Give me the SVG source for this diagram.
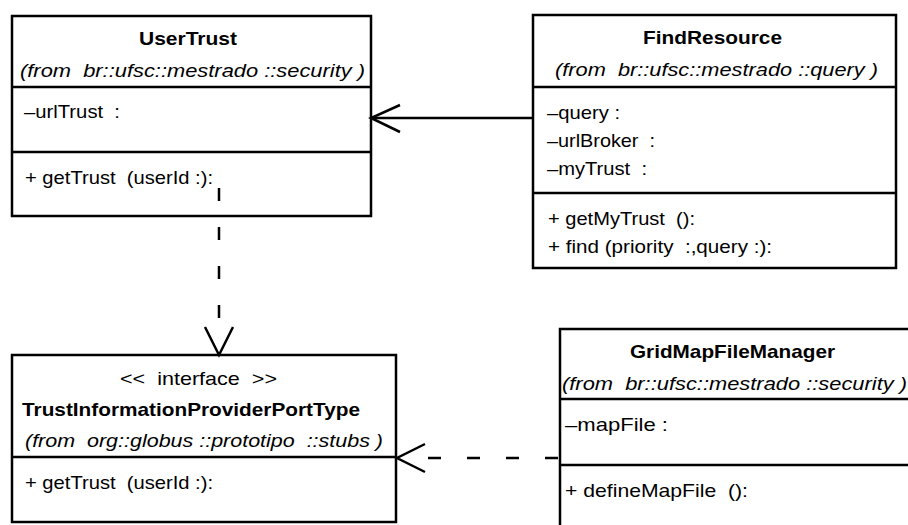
<svg xmlns="http://www.w3.org/2000/svg" width="908" height="525" viewBox="0 0 908 525">
  <style>
    .box { fill: #ffffff; stroke: #000000; stroke-width: 2.5; }
    .sep { stroke: #000000; stroke-width: 2.5; }
    text { font-family: "Liberation Sans", Arial, sans-serif; font-size: 19px; fill: #000000; white-space: pre; }
    .name { font-weight: bold; text-anchor: middle; }
    .pkg { font-style: italic; }
    .ster { text-anchor: middle; }
    .edge { fill: none; stroke: #000000; stroke-width: 2.5; }
    .dash { stroke-dasharray: 13 26; }
  </style>

  <!-- UserTrust class -->
  <g id="UserTrust">
    <rect class="box" x="12" y="16" width="359" height="200"/>
    <text class="name" x="188" y="45" textLength="98" lengthAdjust="spacingAndGlyphs">UserTrust</text>
    <text class="pkg" x="20" y="77" textLength="345" lengthAdjust="spacingAndGlyphs">(from  br::ufsc::mestrado ::security )</text>
    <line class="sep" x1="12" y1="87" x2="371" y2="87"/>
    <text x="24" y="118" textLength="96" lengthAdjust="spacingAndGlyphs">–urlTrust  :</text>
    <line class="sep" x1="12" y1="152" x2="371" y2="152"/>
    <text x="25" y="184" textLength="188" lengthAdjust="spacingAndGlyphs">+ getTrust  (userId :):</text>
  </g>

  <!-- FindResource class -->
  <g id="FindResource">
    <rect class="box" x="533" y="15" width="363" height="253"/>
    <text class="name" x="712.5" y="44" textLength="139" lengthAdjust="spacingAndGlyphs">FindResource</text>
    <text class="pkg" x="555" y="76" textLength="323" lengthAdjust="spacingAndGlyphs">(from  br::ufsc::mestrado ::query )</text>
    <line class="sep" x1="533" y1="87" x2="896" y2="87"/>
    <text x="547" y="119" textLength="73" lengthAdjust="spacingAndGlyphs">–query :</text>
    <text x="547" y="147" textLength="108" lengthAdjust="spacingAndGlyphs">–urlBroker  :</text>
    <text x="547" y="175" textLength="100" lengthAdjust="spacingAndGlyphs">–myTrust  :</text>
    <line class="sep" x1="533" y1="193" x2="896" y2="193"/>
    <text x="548" y="225" textLength="147" lengthAdjust="spacingAndGlyphs">+ getMyTrust  ():</text>
    <text x="548" y="253" textLength="224" lengthAdjust="spacingAndGlyphs">+ find (priority  :,query :):</text>
  </g>

  <!-- TrustInformationProviderPortType interface -->
  <g id="TrustInformationProviderPortType">
    <rect class="box" x="12" y="355" width="384" height="167"/>
    <text class="ster" x="198.5" y="385" textLength="157" lengthAdjust="spacingAndGlyphs">&lt;&lt;  interface  &gt;&gt;</text>
    <text class="name" x="191" y="416" textLength="338" lengthAdjust="spacingAndGlyphs">TrustInformationProviderPortType</text>
    <text class="pkg" x="25" y="447" textLength="358" lengthAdjust="spacingAndGlyphs">(from  org::globus ::prototipo  ::stubs )</text>
    <line class="sep" x1="12" y1="457" x2="396" y2="457"/>
    <text x="25" y="489" textLength="188" lengthAdjust="spacingAndGlyphs">+ getTrust  (userId :):</text>
  </g>

  <!-- GridMapFileManager class (runs past the right edge) -->
  <g id="GridMapFileManager">
    <rect class="box" x="560" y="329" width="380" height="220"/>
    <text class="name" x="732.5" y="358" textLength="205" lengthAdjust="spacingAndGlyphs">GridMapFileManager</text>
    <text class="pkg" x="562" y="390" textLength="345" lengthAdjust="spacingAndGlyphs">(from  br::ufsc::mestrado ::security )</text>
    <line class="sep" x1="560" y1="399" x2="940" y2="399"/>
    <text x="565" y="431" textLength="103" lengthAdjust="spacingAndGlyphs">–mapFile :</text>
    <line class="sep" x1="560" y1="465" x2="940" y2="465"/>
    <text x="565" y="497" textLength="183" lengthAdjust="spacingAndGlyphs">+ defineMapFile  ():</text>
  </g>

  <!-- Connectors -->
  <g id="connectors">
    <!-- FindResource -> UserTrust association -->
    <line class="edge" x1="533" y1="118" x2="371" y2="118"/>
    <polyline class="edge" points="400,105 371,118 400,132"/>
    <!-- UserTrust ..> TrustInformationProviderPortType dependency -->
    <line class="edge dash" x1="219" y1="188" x2="219" y2="320"/>
    <polyline class="edge" points="205,327 219,355 233,327"/>
    <!-- GridMapFileManager ..> TrustInformationProviderPortType dependency -->
    <line class="edge dash" x1="558" y1="458" x2="428" y2="458"/>
    <polyline class="edge" points="425,444 397,458 425,472"/>
  </g>
</svg>
